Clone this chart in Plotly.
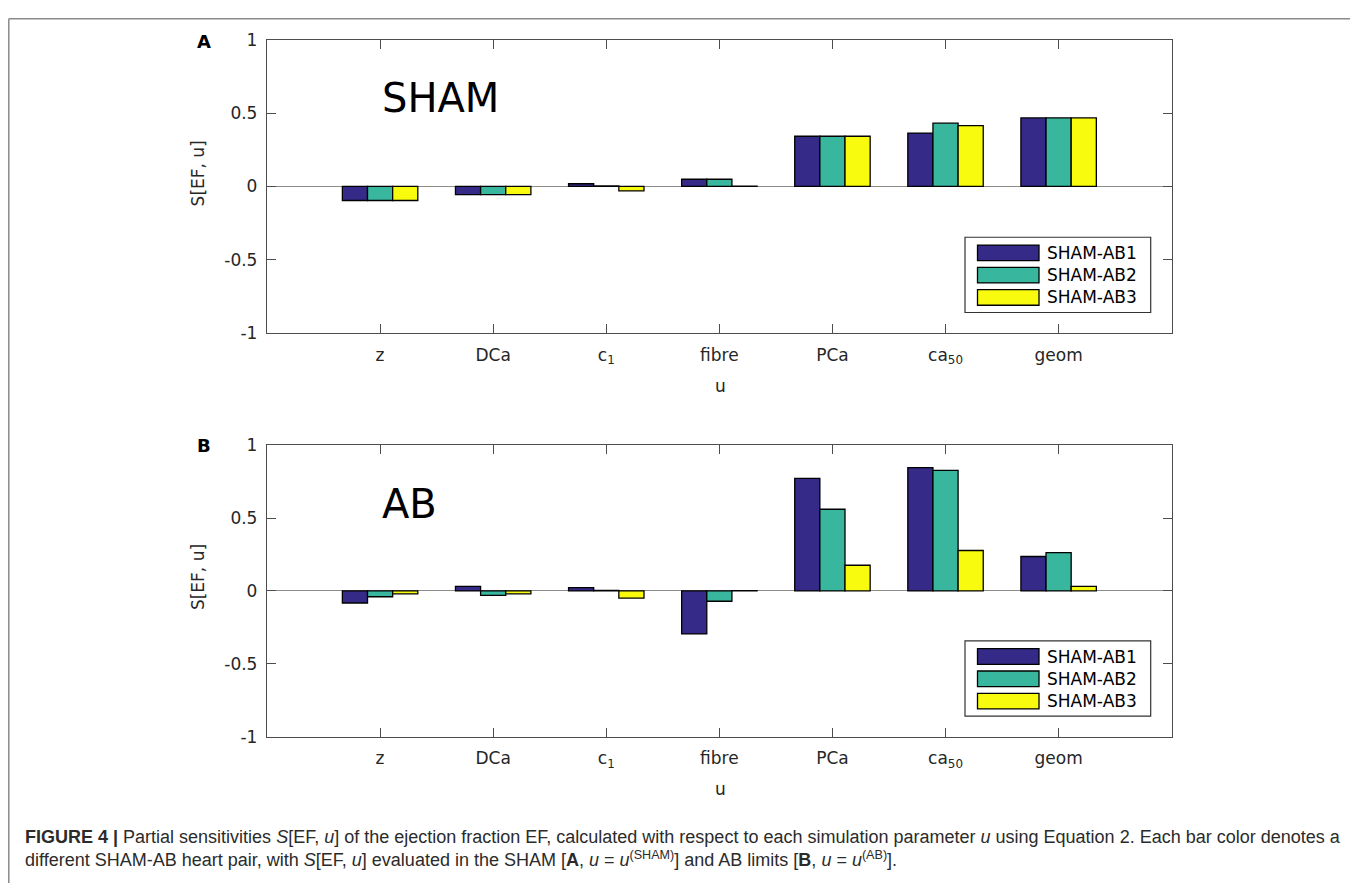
import plotly.graph_objects as go

# ---------------- data ----------------
categories = ["z", "DCa", "c1", "fibre", "PCa", "ca50", "geom"]
tick_labels = ["z", "DCa", "c<sub>1</sub>", "fibre", "PCa", "ca<sub>50</sub>", "geom"]
series_names = ["SHAM-AB1", "SHAM-AB2", "SHAM-AB3"]

# Panel A (SHAM limit)
sham_ab1 = [-0.096, -0.056, 0.018, 0.049, 0.342, 0.364, 0.467]
sham_ab2 = [-0.096, -0.056, 0.003, 0.049, 0.342, 0.431, 0.467]
sham_ab3 = [-0.096, -0.056, -0.031, 0.001, 0.342, 0.415, 0.467]

# Panel B (AB limit)
ab_ab1 = [-0.083, 0.031, 0.022, -0.295, 0.772, 0.845, 0.236]
ab_ab2 = [-0.040, -0.031, 0.003, -0.071, 0.560, 0.827, 0.263]
ab_ab3 = [-0.020, -0.020, -0.049, 0.001, 0.176, 0.277, 0.031]

y_ticks = [-1, -0.5, 0, 0.5, 1]
y_tick_text = ["-1", "-0.5", "0", "0.5", "1"]

colors = ["#352a87", "#38b69e", "#f9fb0e"]

# the page body has an 8px margin, so the figure is drawn 8px in from the corner
OFF = 8
W, H = 1358 - OFF, 893 - OFF
def px(x):
    return (x - OFF) / W
def py(y):
    return 1 - (y - OFF) / H

fig = go.Figure()

panel_series = [
    ("x", "y", [sham_ab1, sham_ab2, sham_ab3]),
    ("x2", "y2", [ab_ab1, ab_ab2, ab_ab3]),
]
for xa, ya, series in panel_series:
    for name, vals, col in zip(series_names, series, colors):
        fig.add_trace(go.Bar(
            x=categories, y=vals, name=name, xaxis=xa, yaxis=ya,
            marker=dict(color=col, line=dict(color="#000000", width=1.3)),
            showlegend=False,
        ))

AX_COL = "#4d4d4d"
TXT_COL = "#262626"
FONT = "DejaVu Sans"

def xaxis_cfg(domain_anchor):
    return dict(
        domain=[px(267), px(1171.7)], anchor=domain_anchor,
        type="category", categoryorder="array", categoryarray=categories,
        range=[-1, 7],
        tickmode="array", tickvals=categories, ticktext=tick_labels,
        ticks="inside", ticklen=9, tickwidth=1.2, tickcolor=AX_COL,
        showline=True, linecolor=AX_COL, linewidth=1.3, mirror="ticks",
        showgrid=False, zeroline=False,
        tickfont=dict(family=FONT, size=17, color=TXT_COL),
        ticklabelstandoff=6,
        fixedrange=True,
    )

def yaxis_cfg(domain, anchor):
    return dict(
        domain=domain, anchor=anchor, range=[-1, 1],
        tickmode="array", tickvals=y_ticks, ticktext=y_tick_text,
        ticks="inside", ticklen=9, tickwidth=1.2, tickcolor=AX_COL,
        showline=True, linecolor=AX_COL, linewidth=1.3, mirror="ticks",
        showgrid=False, zeroline=True, zerolinecolor="#8c8c8c", zerolinewidth=1.3,
        tickfont=dict(family=FONT, size=17, color=TXT_COL),
        ticklabelstandoff=5,
        fixedrange=True,
    )

fig.update_layout(
    width=W, height=H,
    margin=dict(l=0, r=0, t=0, b=0),
    paper_bgcolor="white", plot_bgcolor="white",
    barmode="group", bargap=0.333, bargroupgap=0.0,
    xaxis=xaxis_cfg("y"),
    yaxis=yaxis_cfg([py(330.3), py(30.3)], "x"),
    xaxis2=xaxis_cfg("y2"),
    yaxis2=yaxis_cfg([py(743.3), py(445)], "x2"),
    showlegend=False,
)

annotations = []
shapes = []

# outer frame (open at bottom)
for (x0, y0, x1, y1) in [(8.8, 8.8, 1355, 8.8), (8.8, 8.8, 8.8, 893), (1355, 8.8, 1355, 893)]:
    shapes.append(dict(type="line", xref="paper", yref="paper",
                       x0=px(x0), y0=py(y0), x1=px(x1), y1=py(y1),
                       line=dict(color="#8a8a8a", width=1.5)))

for off, letter, label in [(0, "A", "SHAM"), (413, "B", "AB")]:
    # panel letter
    annotations.append(dict(text="<b>%s</b>" % letter, x=px(203.5), y=py(32 + off),
                            xref="paper", yref="paper", showarrow=False,
                            xanchor="center", yanchor="middle",
                            font=dict(family=FONT, size=18, color="#000000")))
    # big panel label
    annotations.append(dict(text=label, x=px(380), y=py(90 + off + (2 if letter == "B" else 0)),
                            xref="paper", yref="paper", showarrow=False,
                            xanchor="left", yanchor="middle",
                            font=dict(family=FONT, size=40, color="#000000")))
    # x-axis title
    annotations.append(dict(text="u", x=px(720), y=py(384 + off),
                            xref="paper", yref="paper", showarrow=False,
                            xanchor="center", yanchor="middle",
                            font=dict(family=FONT, size=17, color=TXT_COL)))
    # y-axis title
    annotations.append(dict(text="S[EF, u]", x=px(198), y=py(167 + off),
                            xref="paper", yref="paper", showarrow=False, textangle=-90,
                            xanchor="center", yanchor="middle",
                            font=dict(family=FONT, size=17, color=TXT_COL)))
    # legend box
    shapes.append(dict(type="rect", xref="paper", yref="paper",
                       x0=px(965), x1=px(1150.7), y0=py(232.3 + off), y1=py(309.3 + off),
                       line=dict(color="#333333", width=1.2), fillcolor="white"))
    for i, (name, col) in enumerate(zip(series_names, colors)):
        cy = 248.3 + 22.8 * i + off
        shapes.append(dict(type="rect", xref="paper", yref="paper",
                           x0=px(977.5), x1=px(1039), y0=py(cy - 8), y1=py(cy + 8),
                           line=dict(color="#000000", width=1.3), fillcolor=col))
        annotations.append(dict(text=name, x=px(1045), y=py(cy),
                                xref="paper", yref="paper", showarrow=False,
                                xanchor="left", yanchor="middle",
                                font=dict(family=FONT, size=17, color="#000000")))

# caption (one text block, two lines)
cap_font = dict(family="Liberation Sans", size=18, color="#2b2b2b")
line1 = ("<b>FIGURE 4 |</b> Partial sensitivities <i>S</i>[EF, <i>u</i>] of the ejection fraction EF, "
         "calculated with respect to each simulation parameter <i>u</i> using Equation 2. "
         "Each bar color denotes a")
line2 = ("different SHAM-AB heart pair, with <i>S</i>[EF, <i>u</i>] evaluated in the SHAM "
         "[<b>A</b>, <i>u</i> = <i>u</i><sup>(SHAM)</sup>] and AB limits "
         "[<b>B</b>, <i>u</i> = <i>u</i><sup>(AB)</sup>].")
annotations.append(dict(text=line1 + "<br>" + line2, x=px(22.5), y=py(858), xref="paper", yref="paper",
                        showarrow=False, xanchor="left", yanchor="middle", align="left",
                        font=cap_font))

fig.update_layout(annotations=annotations, shapes=shapes)

fig.write_html("out.html")
